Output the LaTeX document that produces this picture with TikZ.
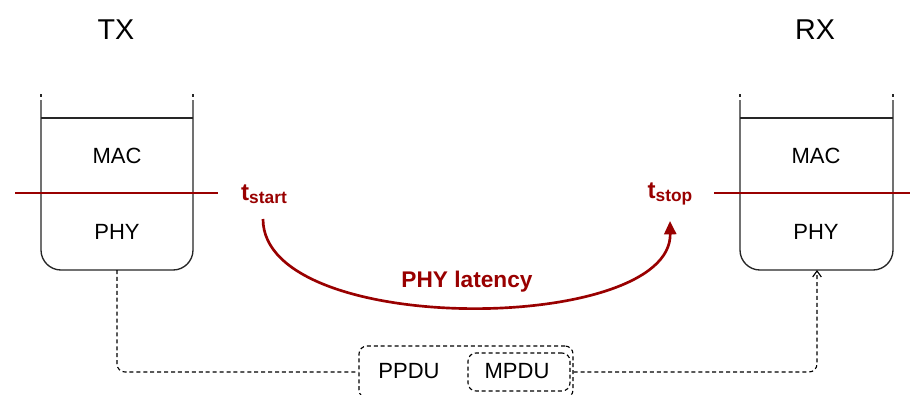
\documentclass[tikz,border=0pt]{standalone}
\usepackage{fontspec}
\setmainfont{Liberation Sans}
\usetikzlibrary{arrows.meta}
\definecolor{latred}{RGB}{153,0,0}
\tikzset{
  stackline/.style={line width=1pt, black!85},
  layerlabel/.style={font=\fontsize{16.5}{18}\selectfont, inner sep=0pt},
  sidelabel/.style={font=\fontsize{21.5}{24}\selectfont, inner sep=0pt},
  cutline/.style={line width=1.8pt, latred},
  timelabel/.style={text=latred, inner sep=0pt},
  dashline/.style={line width=0.85pt, dash pattern=on 3pt off 2.2pt},
  dashbox/.style={dashline, draw, rounded corners=6pt, inner sep=0pt},
}
\newcommand{\tlabel}[1]{{\fontsize{18}{19}\selectfont\bfseries t\raisebox{-0.25ex}{\fontsize{13}{14}\selectfont #1}}}
\begin{document}
\begin{tikzpicture}[x=0.75pt, y=-0.75pt]
\clip (0,0) rectangle (910,394);
\fill[white] (0,0) rectangle (910,394);

% station titles
\node[sidelabel] (tx) at (116,30) {TX};
\node[sidelabel] (rx) at (815,30) {RX};

% TX protocol stack
\draw[stackline] (41,94) -- (41,96.5) (193,94) -- (193,96.5);
\draw[stackline, rounded corners=15] (41,100) -- (41,270) -- (193,270) -- (193,100);
\draw[stackline] (41,118) -- (193,118);
\coordinate (txbot) at (117,270);
\node[layerlabel] (txmac) at (117,156) {MAC};
\node[layerlabel] (txphy) at (117,232) {PHY};
\draw[cutline] (15,193) -- (218,193);

% RX protocol stack
\draw[stackline] (740,94) -- (740,96.5) (893,94) -- (893,96.5);
\draw[stackline, rounded corners=15] (740,100) -- (740,270) -- (893,270) -- (893,100);
\draw[stackline] (740,118) -- (893,118);
\coordinate (rxbot) at (817,270);
\node[layerlabel] (rxmac) at (816,156) {MAC};
\node[layerlabel] (rxphy) at (816,232) {PHY};
\draw[cutline] (714,193) -- (910,193);

% time stamps and latency arc
\node[timelabel] (tstart) at (264,194) {\tlabel{start}};
\node[timelabel] (tstop) at (670,194) {\tlabel{stop}};
\coordinate (arcstart) at (263,219);
\coordinate (arcend) at (670,221);
\draw[line width=2pt, latred, -{Triangle[length=10pt,width=9pt]}]
  (arcstart) .. controls (263,338) and (672,334) .. (arcend);
\node[timelabel, font=\fontsize{17}{19}\selectfont\bfseries] (lat) at (467,282) {PHY latency};

% frame boxes
\node[dashbox, minimum width=160.5pt, minimum height=39pt] (ppdubox) at (466,372) {};
\node[layerlabel] (ppdu) at (409,371) {PPDU};
\node[dashbox, minimum width=76.5pt, minimum height=28.5pt] (mpdubox) at (519,372) {};
\node[layerlabel] (mpdu) at (517,371) {MPDU};

% transmission path
\draw[dashline, rounded corners=6pt] (txbot) |- (ppdubox.west);
\draw[dashline, rounded corners=6pt, -{Straight Barb[length=4.5pt,width=6.5pt]}] (ppdubox.east) -| (rxbot);
\end{tikzpicture}
\end{document}
